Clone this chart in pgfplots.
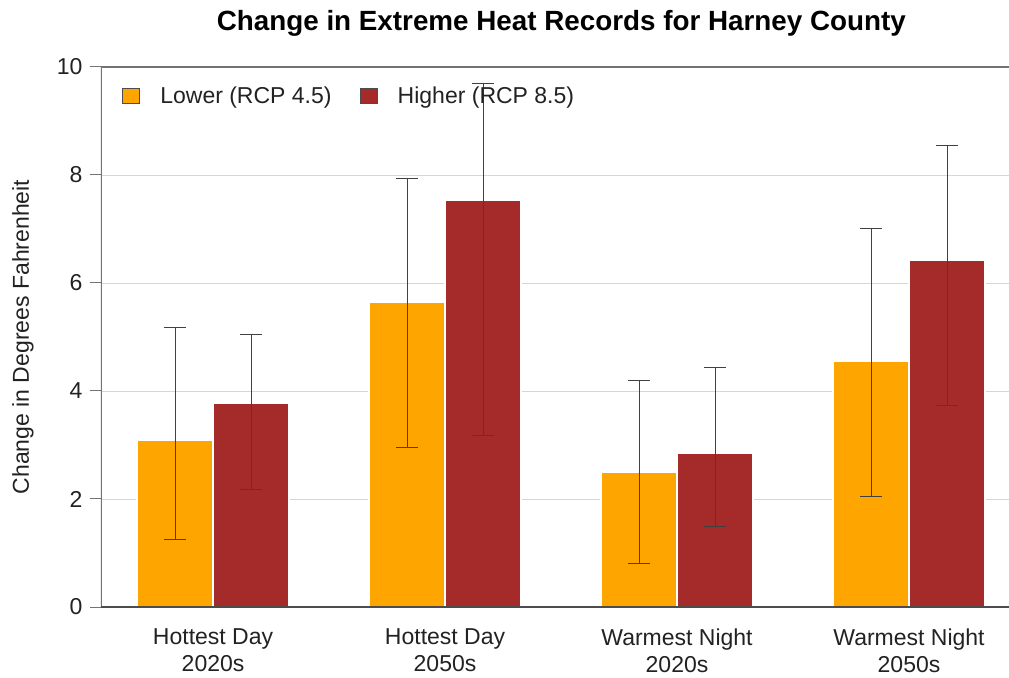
\documentclass[border=0pt]{standalone}
\usepackage{pgfplots}
\pgfplotsset{compat=1.18}
\usepackage{pgfplotstable}
\usepackage{fontspec}
\setmainfont{Liberation Sans}
\definecolor{lowc}{HTML}{FFA500}
\definecolor{highc}{HTML}{A52A2A}
\definecolor{gridc}{HTML}{D6D6D6}
\definecolor{txt}{HTML}{222222}

\pgfplotstableread{
x y ep em
0 3.09 2.08 1.84
1 5.65 2.28 2.69
2 2.50 1.70 1.70
3 4.56 2.44 2.52
}\lowtab
\pgfplotstableread{
x y ep em
0 3.78 1.26 1.61
1 7.54 2.16 4.37
2 2.85 1.59 1.35
3 6.43 2.11 2.69
}\hightab

\begin{document}
\begin{tikzpicture}
\begin{axis}[
  scale only axis, width=908bp, height=540bp,
  xmin=-0.483, xmax=3.431, ymin=0, ymax=10,
  ybar=0pt, bar width=76bp,
  axis line style={draw=none},
  ytick={0,2,...,10},
  ymajorgrids, grid style={gridc, line width=0.9bp},
  tick align=outside, major tick length=11bp,
  ytick style={draw=black!55, line width=1bp},
  xtick={0,1,2,3}, xtick style={draw=none},
  xticklabels={{Hottest Day\\2020s},{Hottest Day\\2050s},{Warmest Night\\2020s},{Warmest Night\\2050s}},
  xticklabel style={align=center, font=\fontsize{23bp}{27.5bp}\selectfont, text=txt, yshift=-7bp},
  yticklabel style={font=\fontsize{23bp}{25bp}\selectfont, text=txt, xshift=-4bp},
  /pgf/number format/assume math mode=true,
  ylabel={Change in Degrees Fahrenheit},
  ylabel style={at={(axis description cs:-0.0859,0.5)}, anchor=center, font=\fontsize{23bp}{25bp}\selectfont, text=txt},
  title={\bfseries Change in Extreme Heat Records for Harney County},
  title style={at={(axis description cs:0.507,1)}, anchor=base, yshift=30.5bp, font=\fontsize{27.8bp}{30bp}\selectfont},
  legend style={draw=none, fill=none, at={(axis description cs:0,0.9463)}, anchor=west, xshift=18bp,
    font=\fontsize{23bp}{25bp}\selectfont, text=txt,
    /tikz/every even column/.append style={column sep=26bp}},
  legend columns=2, legend cell align=left,
  error bars/y dir=both, error bars/y explicit,
  error bars/error bar style={line width=1bp, draw=black!75},
  error bars/error mark options={rotate=90, mark size=11bp, line width=1bp, draw=black!75},
]
\addplot[fill=lowc, draw=white, line width=1.5bp,
  legend image code/.code={\path[fill=lowc, draw=black!70, line width=0.8bp] (0bp,-7.5bp) rectangle (17bp,7.5bp); \path (35bp,0bp);}]
  table[x=x, y=y, y error plus=ep, y error minus=em] {\lowtab};
\addlegendentry{Lower (RCP 4.5)}
\addplot[fill=highc, draw=white, line width=1.5bp,
  legend image code/.code={\path[fill=highc, draw=black!70, line width=0.8bp] (0bp,-7.5bp) rectangle (17bp,7.5bp); \path (35bp,0bp);}]
  table[x=x, y=y, y error plus=ep, y error minus=em] {\hightab};
\addlegendentry{Higher (RCP 8.5)}
\draw[black!55, line width=1.3bp] (rel axis cs:0,0) -- (rel axis cs:0,1) -- (rel axis cs:1,1);
\draw[black!70, line width=1.3bp] (rel axis cs:0,0) -- (rel axis cs:1,0);
\end{axis}
\pgfresetboundingbox
\path (-101bp,-71bp) rectangle (908bp,607bp);
\end{tikzpicture}
\end{document}
